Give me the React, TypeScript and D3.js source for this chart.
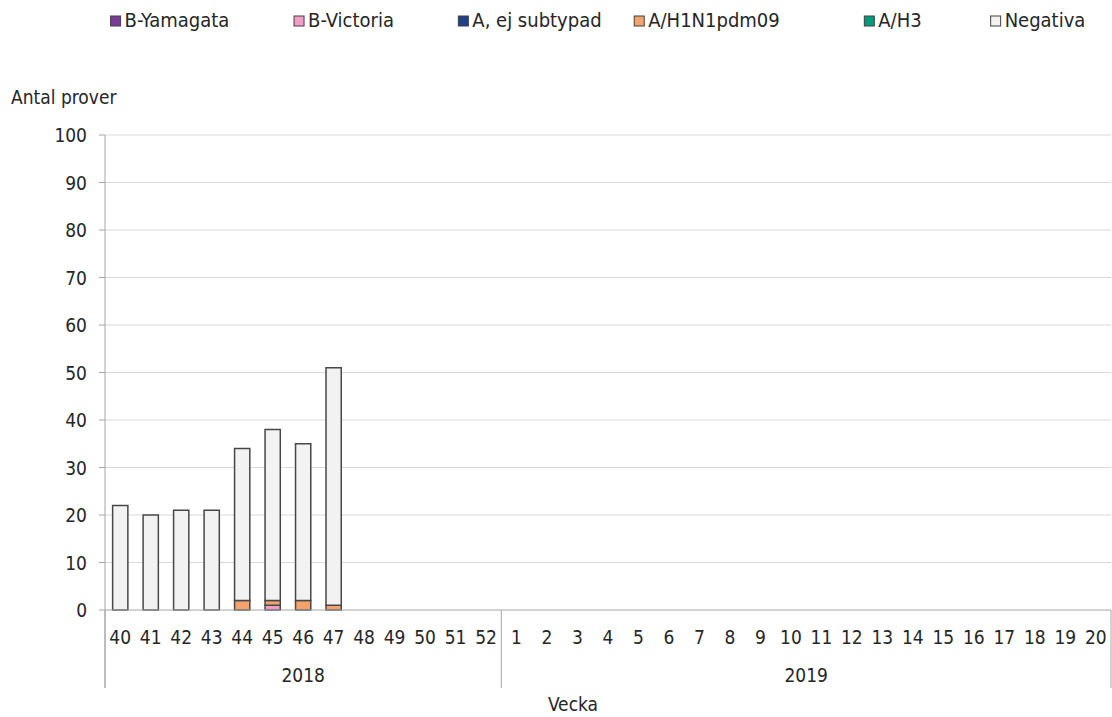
import React, { useEffect, useRef } from 'react';
import * as d3 from 'd3';

const weeks2018 = ['40', '41', '42', '43', '44', '45', '46', '47', '48', '49', '50', '51', '52'];
const weeks2019 = ['1', '2', '3', '4', '5', '6', '7', '8', '9', '10', '11', '12', '13', '14', '15', '16', '17', '18', '19', '20'];
const years = ['2018', '2019'];

const seriesNames = ['B-Yamagata', 'B-Victoria', 'A, ej subtypad', 'A/H1N1pdm09', 'A/H3', 'Negativa'];
const seriesColors = ['#7a3b96', '#f29cc6', '#1f3f8f', '#f4a36c', '#009a7c', '#f2f2f2'];

// values per week (only weeks with data, rest empty)
const bYamagata = [0, 0, 0, 0, 0, 0, 0, 0];
const bVictoria = [0, 0, 0, 0, 0, 1, 0, 0];
const aEjSubtypad = [0, 0, 0, 0, 0, 0, 0, 0];
const aH1N1 = [0, 0, 0, 0, 2, 1, 2, 1];
const aH3 = [0, 0, 0, 0, 0, 0, 0, 0];
const negativa = [22, 20, 21, 21, 32, 36, 33, 50];

const yTicks = [0, 10, 20, 30, 40, 50, 60, 70, 80, 90, 100];

const FONT = 'Tahoma, "DejaVu Sans Condensed", "DejaVu Sans", sans-serif';
const TEXT = '#262626';

const App: React.FC = () => {
  const svgRef = useRef<SVGSVGElement>(null);

  useEffect(() => {
    document.body.style.margin = '0';
    if (!svgRef.current) return;
    const svg = d3.select(svgRef.current);
    svg.selectAll('*').remove();

    const left = 105, right = 1111, top = 135, bottom = 610, groupBottom = 688;
    const cats = [...weeks2018.map(w => '2018-' + w), ...weeks2019.map(w => '2019-' + w)];

    const x = d3.scaleBand().domain(cats).range([left, right]).paddingInner(0.5).paddingOuter(0.25);
    const y = d3.scaleLinear().domain([0, 100]).range([bottom, top]);

    // gridlines
    svg.append('g')
      .selectAll('line')
      .data(yTicks.filter(t => t > 0))
      .join('line')
      .attr('x1', left).attr('x2', right)
      .attr('y1', d => y(d)).attr('y2', d => y(d))
      .attr('stroke', '#d9d9d9').attr('stroke-width', 1);

    // stacked bars
    const seriesData = [bYamagata, bVictoria, aEjSubtypad, aH1N1, aH3, negativa];
    const rows = cats.map((c, i) => {
      const r: any = { cat: c };
      seriesNames.forEach((n, k) => { r[n] = seriesData[k][i] ?? 0; });
      return r;
    });
    const stack = d3.stack<any>().keys(seriesNames)(rows);

    stack.forEach((layer, k) => {
      svg.append('g')
        .selectAll('rect')
        .data(layer.filter(d => d[1] - d[0] > 0))
        .join('rect')
        .attr('x', d => x(d.data.cat)!)
        .attr('width', x.bandwidth())
        .attr('y', d => y(d[1]))
        .attr('height', d => y(d[0]) - y(d[1]))
        .attr('fill', seriesColors[k])
        .attr('stroke', '#474747')
        .attr('stroke-width', 1.5);
    });

    // y axis
    svg.append('line')
      .attr('x1', left).attr('x2', left).attr('y1', top).attr('y2', groupBottom)
      .attr('stroke', '#a6a6a6');
    svg.append('g')
      .selectAll('line')
      .data(yTicks)
      .join('line')
      .attr('x1', left - 6).attr('x2', left)
      .attr('y1', d => y(d)).attr('y2', d => y(d))
      .attr('stroke', '#a6a6a6');
    svg.append('g')
      .selectAll('text')
      .data(yTicks)
      .join('text')
      .attr('x', 87).attr('y', d => y(d) + 7)
      .attr('text-anchor', 'end')
      .attr('font-family', FONT).attr('font-size', 19).attr('fill', TEXT)
      .text(d => d);

    // x axis
    svg.append('line')
      .attr('x1', left).attr('x2', right).attr('y1', bottom).attr('y2', bottom)
      .attr('stroke', '#a6a6a6');

    const boundary = x(cats[weeks2018.length])! - x.step() * x.paddingInner() / 2;
    [left, boundary, right].forEach(bx => {
      svg.append('line')
        .attr('x1', bx).attr('x2', bx).attr('y1', bottom).attr('y2', groupBottom)
        .attr('stroke', '#a6a6a6');
    });

    svg.append('g')
      .selectAll('text')
      .data(cats)
      .join('text')
      .attr('x', d => x(d)! + x.bandwidth() / 2)
      .attr('y', 644)
      .attr('text-anchor', 'middle')
      .attr('font-family', FONT).attr('font-size', 19).attr('fill', TEXT)
      .text(d => d.split('-')[1]);

    const yearX = [(left + boundary) / 2, (boundary + right) / 2];
    svg.append('g')
      .selectAll('text')
      .data(years)
      .join('text')
      .attr('x', (_, i) => yearX[i])
      .attr('y', 682)
      .attr('text-anchor', 'middle')
      .attr('font-family', FONT).attr('font-size', 19).attr('fill', TEXT)
      .text(d => d);

    svg.append('text')
      .attr('x', 573).attr('y', 711)
      .attr('text-anchor', 'middle')
      .attr('font-family', FONT).attr('font-size', 19).attr('fill', TEXT)
      .text('Vecka');

    svg.append('text')
      .attr('x', 11).attr('y', 104)
      .attr('font-family', FONT).attr('font-size', 19).attr('fill', TEXT)
      .text('Antal prover');

    // legend, each label centred where the original sits
    const legendMid = [177, 351, 537, 714, 900, 1045];
    const lg = svg.append('g');
    seriesNames.forEach((n, i) => {
      const t = lg.append('text')
        .attr('x', legendMid[i]).attr('y', 27)
        .attr('text-anchor', 'middle')
        .attr('font-family', FONT).attr('font-size', 20).attr('fill', TEXT)
        .text(n);
      const w = (t.node() as SVGTextElement).getComputedTextLength();
      lg.append('rect')
        .attr('x', legendMid[i] - w / 2 - 14).attr('y', 16).attr('width', 10).attr('height', 10)
        .attr('fill', seriesColors[i]).attr('stroke', '#404040').attr('stroke-width', 1);
    });
  }, []);

  return <svg ref={svgRef} width={1112} height={717} style={{ display: 'block', background: '#fff' }} />;
};

export default App;
